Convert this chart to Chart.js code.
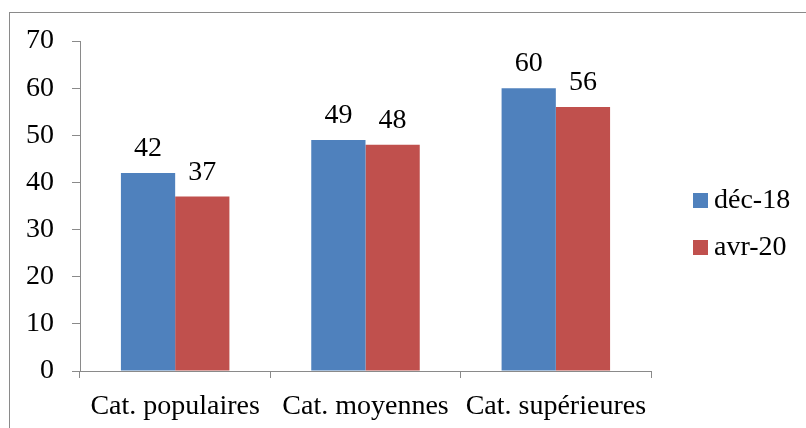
<!DOCTYPE html>
<html>
<head>
<meta charset="utf-8">
<script src="https://cdn.jsdelivr.net/npm/chart.js@4/dist/chart.umd.min.js"></script>
<style>
  html, body { margin: 0; padding: 0; background: #fff; overflow: hidden; }
  #wrap { position: relative; width: 806px; height: 428px; }
  #frame { position: absolute; left: 9px; top: 12px; width: 820px; height: 440px; border: 1px solid #8a8a8a; box-sizing: border-box; }
  canvas { position: absolute; left: 0; top: 0; }
</style>
</head>
<body>
<div id="wrap">
  <div id="frame"></div>
  <canvas id="chart" width="806" height="428"></canvas>
</div>
<script>
const categories = ['Cat. populaires', 'Cat. moyennes', 'Cat. supérieures'];
const seriesNames = ['déc-18', 'avr-20'];
const dec18 = [42, 49, 60];
const avr20 = [37, 48, 56];
const yTicks = [0, 10, 20, 30, 40, 50, 60, 70];

const FONT = '"Liberation Serif", "DejaVu Serif", serif';
const FSIZE = 28;
const AXIS = '#8a8a8a';

const valueLabels = {
    id: 'valueLabels',
    afterDatasetsDraw(chart) {
        const ctx = chart.ctx;
        ctx.save();
        ctx.font = FSIZE + 'px ' + FONT;
        ctx.fillStyle = '#000';
        ctx.textAlign = 'center';
        ctx.textBaseline = 'alphabetic';
        chart.data.datasets.forEach((ds, i) => {
            chart.getDatasetMeta(i).data.forEach((bar, j) => {
                ctx.fillText(ds.data[j], bar.x, bar.y - 17);
            });
        });
        ctx.restore();
    }
};

const sideLegend = {
    id: 'sideLegend',
    afterDraw(chart) {
        const ctx = chart.ctx;
        const area = chart.chartArea;
        const x = area.right + 42;
        const y0 = 200;
        ctx.save();
        ctx.font = FSIZE + 'px ' + FONT;
        ctx.textBaseline = 'middle';
        ctx.textAlign = 'left';
        chart.data.datasets.forEach((ds, i) => {
            const y = y0 + i * 47;
            ctx.fillStyle = ds.backgroundColor;
            ctx.fillRect(x, y - 7, 15, 15);
            ctx.fillStyle = '#000';
            ctx.fillText(ds.label, x + 21, y + 1);
        });
        ctx.restore();
    }
};

new Chart(document.getElementById('chart'), {
    type: 'bar',
    data: {
        labels: categories,
        datasets: [
            { label: seriesNames[0], data: dec18, backgroundColor: '#4F81BD' },
            { label: seriesNames[1], data: avr20, backgroundColor: '#C0504D' }
        ]
    },
    options: {
        responsive: false,
        animation: false,
        events: [],
        layout: { padding: { top: 41, right: 155, bottom: 0, left: 0 } },
        datasets: { bar: { categoryPercentage: 0.57, barPercentage: 1.0 } },
        scales: {
            x: {
                grid: { display: true, drawOnChartArea: false, offset: true, color: AXIS, tickLength: 7 },
                border: { color: AXIS, width: 1 },
                ticks: { color: '#000', font: { family: FONT, size: FSIZE }, padding: 12, maxRotation: 0 },
                afterFit(scale) { scale.height = 57; }
            },
            y: {
                min: 0,
                max: 70,
                afterBuildTicks(scale) { scale.ticks = yTicks.map(v => ({ value: v })); },
                grid: { display: true, drawOnChartArea: false, color: AXIS, tickLength: 8 },
                border: { color: AXIS, width: 1 },
                ticks: { color: '#000', font: { family: FONT, size: FSIZE }, padding: 18 },
                afterFit(scale) { scale.width = 80; }
            }
        },
        plugins: {
            legend: { display: false },
            tooltip: { enabled: false }
        }
    },
    plugins: [valueLabels, sideLegend]
});
</script>
</body>
</html>
